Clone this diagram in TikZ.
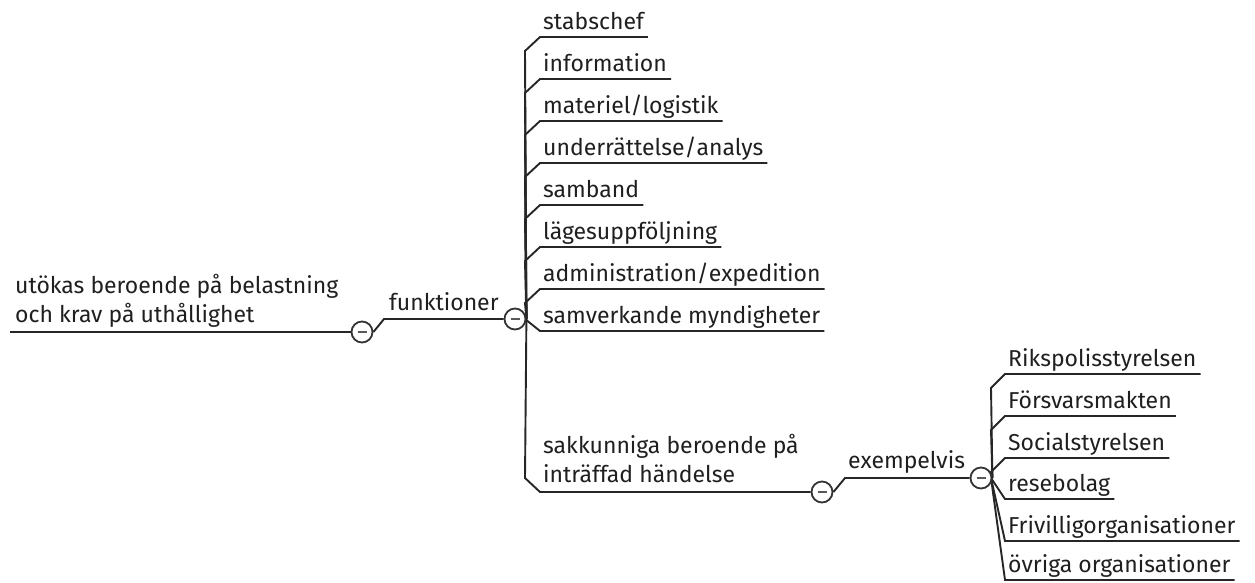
\documentclass[tikz,border=0pt]{standalone}
\usepackage{fontspec}
\setmainfont{Fira Sans}
\usetikzlibrary{backgrounds}
\begin{document}
\begin{tikzpicture}[x=1pt,y=-1pt,
  topic/.style={anchor=base west,inner xsep=4pt,inner ysep=0pt,align=left,text=black!88,font=\fontsize{23}{29}\selectfont},
  branch/.style={draw=black!85,line width=1.9pt},
  fold/.style={circle,draw=black!80,fill=white,line width=1.8pt,minimum size=21pt,inner sep=0pt,
    path picture={\draw[black!65,line width=2.6pt] ([xshift=-4.5pt]path picture bounding box.center) -- ([xshift=4.5pt]path picture bounding box.center);}}]
\useasboundingbox (0,0) rectangle (1255,582);
% root and folds
\node[topic] (root) at (11,322) {utökas beroende på belastning\\och krav på uthållighet};
\coordinate (r0) at (10,332);
\node[fold] (f1) at (362,332) {};
\node[topic] (funk) at (385,310) {funktioner};
\node[fold] (f2) at (515,319) {};
\node[topic] (sak) at (539,482) {sakkunniga beroende på\\inträffad händelse};
\node[fold] (f3) at (822,492) {};
\node[topic] (ex) at (844,468) {exempelvis};
\node[fold] (f4) at (981,478) {};
\begin{scope}[on background layer]
\draw[branch] (r0) -- (f1.west);
\draw[branch] (f1.east) -- (384,319) -- (f2.west);
\draw[branch] (f2.east) -- (525,478) -- (540,492) -- (f3.west);
\draw[branch] (f3.east) -- (845,478) -- (f4.west);
\end{scope}
% functions
\foreach \n/\y/\t in {stab/37/stabschef,info/79/information,mat/121/materiel\slash logistik,
    und/163/underrättelse\slash analys,samb/205/samband,lage/247/lägesuppföljning,
    adm/289/administration\slash expedition,samv/331/samverkande myndigheter}{
  \node[topic] (\n) at (539,\y-8) {\t};
  \begin{scope}[on background layer]
  \draw[branch] (f2.east) -- (525,{min(\y+14,319)}) -- (540,\y) -- ([yshift=-8pt]\n.base east);
  \end{scope}
}
% examples
\foreach \n/\y/\t in {rps/374/Rikspolisstyrelsen,fm/416/Försvarsmakten,sos/458/Socialstyrelsen,
    rese/499/resebolag,friv/541/Frivilligorganisationer,ovr/580/övriga organisationer}{
  \node[topic] (\n) at (1004,\y-8) {\t};
  \begin{scope}[on background layer]
  \draw[branch] (f4.east) -- (991,{min(\y+14,478)}) -- (1005,\y) -- ([yshift=-8pt]\n.base east);
  \end{scope}
}
\end{tikzpicture}
\end{document}
